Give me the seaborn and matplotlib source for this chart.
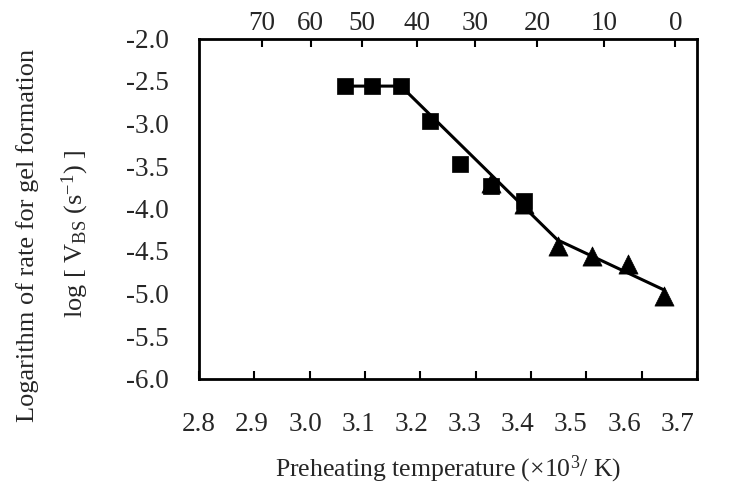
import numpy as np
import pandas as pd
import matplotlib
matplotlib.use("Agg")
import matplotlib.pyplot as plt
from matplotlib.ticker import FormatStrFormatter, FixedLocator
import seaborn as sns

# ---- data ----
square_x = [3.064, 3.112, 3.165, 3.217, 3.272, 3.328, 3.388]
square_y = [-2.56, -2.56, -2.56, -2.97, -3.48, -3.73, -3.91]
triangle_x = [3.328, 3.388, 3.448, 3.510, 3.575, 3.641]
triangle_y = [-3.70, -3.95, -4.44, -4.555, -4.656, -5.033]
fit_x = [3.064, 3.165, 3.448, 3.641]
fit_y = [-2.56, -2.56, -4.37, -4.96]
x_ticks = [2.8, 2.9, 3.0, 3.1, 3.2, 3.3, 3.4, 3.5, 3.6, 3.7]
y_ticks = [-6.0, -5.5, -5.0, -4.5, -4.0, -3.5, -3.0, -2.5, -2.0]
top_temps_c = [70, 60, 50, 40, 30, 20, 10, 0]

sns.set_style("white")
plt.rcParams["font.family"] = ["Liberation Serif", "DejaVu Serif"]
plt.rcParams["mathtext.fontset"] = "custom"
plt.rcParams["mathtext.rm"] = "Liberation Serif"
plt.rcParams["mathtext.it"] = "Liberation Serif:italic"
plt.rcParams["axes.unicode_minus"] = False

FS = 19.5

fig = plt.figure(figsize=(7.42, 4.87), dpi=100)
ax = fig.add_axes([199 / 742, 1 - 378.5 / 487, (697 - 199) / 742, (378.5 - 38.5) / 487])

fit_df = pd.DataFrame({"x": fit_x, "y": fit_y})
sq_df = pd.DataFrame({"x": square_x, "y": square_y})
tr_df = pd.DataFrame({"x": triangle_x, "y": triangle_y})

sns.lineplot(data=fit_df, x="x", y="y", ax=ax, color="black", linewidth=2.2,
             sort=False, zorder=2)
sns.scatterplot(data=tr_df, x="x", y="y", ax=ax, marker="^", s=190, color="black",
                edgecolor="black", linewidth=0.5, zorder=3)
sns.scatterplot(data=sq_df, x="x", y="y", ax=ax, marker="s", s=125, color="black",
                edgecolor="black", linewidth=0.5, zorder=4)

ax.set_xlim(2.8, 3.7)
ax.set_ylim(-6.0, -2.0)
ax.xaxis.set_major_locator(FixedLocator(x_ticks))
ax.yaxis.set_major_locator(FixedLocator(y_ticks))
ax.yaxis.set_major_formatter(FormatStrFormatter("%.1f"))

for sp in ax.spines.values():
    sp.set_visible(True)
    sp.set_linewidth(2.0)
    sp.set_color("black")

ax.tick_params(axis="x", direction="in", length=6, width=1.5, labelbottom=False,
               color="black")
ax.tick_params(axis="y", direction="in", length=6.5, width=1.5, labelsize=FS, pad=22,
               color="black")
ax.set_xlabel("")
ax.set_ylabel("")

# bottom tick labels (slightly compressed spacing, as in the reference)
lab = ax.twiny()
lab.set_xlim(2.8056, 3.7374)
lab.xaxis.set_ticks_position("bottom")
lab.xaxis.set_label_position("bottom")
lab.set_xticks(x_ticks)
lab.xaxis.set_major_formatter(FormatStrFormatter("%.1f"))
lab.tick_params(axis="x", length=0, labelsize=FS, pad=24, labeltop=False, labelbottom=True)
for sp in lab.spines.values():
    sp.set_visible(False)
lab.set_xlabel("Preheating temperature (×10$^{3}$/ K)", fontsize=18.5, labelpad=12)

# top axis: temperature in degrees Celsius
top = ax.twiny()
top.set_xlim(ax.get_xlim())
top_pos = [1000.0 / (t + 273.15) for t in top_temps_c]
top.set_xticks(top_pos)
top.set_xticklabels([str(t) for t in top_temps_c])
top.tick_params(axis="x", direction="in", length=5.5, width=1.5, labelsize=FS, pad=2,
                color="black")
for sp in top.spines.values():
    sp.set_visible(False)

# two-line y label
fig.text(28 / 742, 1 - 235 / 487, "Logarithm of rate for gel formation",
         rotation=90, ha="center", va="center", fontsize=19)
fig.text(75 / 742, 1 - 234 / 487, r"log [ V$_{\rm BS}$ (s$^{-1}$) ]",
         rotation=90, ha="center", va="center", fontsize=19)

fig.savefig("out.png", dpi=100)
